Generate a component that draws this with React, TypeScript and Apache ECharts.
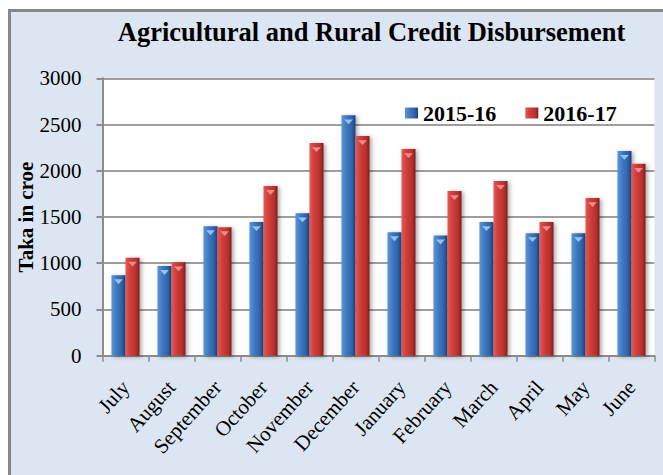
import React, { useEffect, useRef } from "react";
import * as echarts from "echarts";

const categories = ["July", "August", "September", "October", "November", "December", "January", "February", "March", "April", "May", "June"];
const series2015 = [870, 970, 1400, 1445, 1540, 2600, 1335, 1300, 1445, 1325, 1325, 2215];
const series2016 = [1060, 1010, 1390, 1835, 2300, 2375, 2235, 1780, 1890, 1445, 1705, 2075];
const seriesNames = ["2015-16", "2016-17"];
const chartTitle = "Agricultural and Rural Credit Disbursement";
const yAxisName = "Taka in croe";

const FONT = "'Liberation Serif', 'Times New Roman', serif";

const blueGrad = new echarts.graphic.LinearGradient(0, 0, 1, 0, [
  { offset: 0, color: "#5d94d6" },
  { offset: 0.35, color: "#3f79c2" },
  { offset: 0.75, color: "#2f62a8" },
  { offset: 1, color: "#1d3f72" },
]);
const redGrad = new echarts.graphic.LinearGradient(0, 0, 1, 0, [
  { offset: 0, color: "#e15a57" },
  { offset: 0.35, color: "#d03d3a" },
  { offset: 0.75, color: "#b8312e" },
  { offset: 1, color: "#7c1e1c" },
]);

export default function App() {
  const ref = useRef<HTMLDivElement>(null);
  useEffect(() => {
    if (!ref.current) return;
    const chart = echarts.init(ref.current, null, { renderer: "svg" });
    const barCommon = {
      type: "bar" as const,
      barGap: "0%",
      barCategoryGap: "39%",
    };
    const tipCommon = {
      type: "pictorialBar" as const,
      symbol: "triangle",
      symbolRotate: 180,
      symbolSize: [9, 5],
      symbolPosition: "end",
      symbolOffset: [0, 4],
      barGap: "0%",
      barCategoryGap: "39%",
      silent: true,
      z: 5,
    };
    chart.setOption({
      animation: false,
      backgroundColor: "#ffffff",
      graphic: [
        {
          type: "rect",
          z: -100,
          shape: { x: 9.5, y: 10.5, width: 700, height: 500 },
          style: { fill: "#dce6f2", stroke: "#878787", lineWidth: 3 },
        },
        {
          type: "text",
          x: 371.5,
          y: 32,
          style: {
            text: chartTitle,
            font: `bold 26.5px ${FONT}`,
            fill: "#000",
            textAlign: "center",
            textVerticalAlign: "middle",
          },
        },
      ],
      legend: {
        data: seriesNames,
        left: 400,
        top: 97,
        icon: "rect",
        itemWidth: 13,
        itemHeight: 11,
        itemGap: 29,
        textStyle: { fontFamily: FONT, fontWeight: "bold", fontSize: 22, color: "#000" },
      },
      grid: {
        left: 102.5,
        right: 8.5,
        top: 78.3,
        bottom: 119.3,
        show: true,
        backgroundColor: "#ffffff",
        borderWidth: 0,
      },
      xAxis: {
        type: "category",
        data: categories,
        axisLine: { lineStyle: { color: "#8c8c8c", width: 2 } },
        axisTick: { show: true, length: 6, lineStyle: { color: "#8c8c8c", width: 1.5 } },
        axisLabel: {
          interval: 0,
          rotate: 48,
          margin: 28,
          fontFamily: FONT,
          fontSize: 21,
          color: "#000",
        },
      },
      yAxis: {
        type: "value",
        min: 0,
        max: 3000,
        interval: 500,
        name: yAxisName,
        nameLocation: "middle",
        nameGap: 66,
        nameMoveOverlap: false,
        nameTextStyle: { fontFamily: FONT, fontWeight: "bold", fontSize: 21, color: "#000" },
        axisLine: { show: true, lineStyle: { color: "#8c8c8c", width: 2 } },
        axisTick: { show: true, length: 6, lineStyle: { color: "#8c8c8c", width: 2 } },
        splitLine: { lineStyle: { color: "#9e9e9e", width: 2 } },
        axisLabel: {
          margin: 21,
          fontFamily: FONT,
          fontSize: 21,
          color: "#000",
          formatter: (v: number) => String(v),
        },
      },
      series: [
        {
          ...barCommon,
          name: seriesNames[0],
          data: series2015,
          itemStyle: {
            color: blueGrad,
            shadowBlur: 4,
            shadowColor: "rgba(0,0,0,0.35)",
            shadowOffsetX: 2,
            shadowOffsetY: 1,
          },
        },
        {
          ...barCommon,
          name: seriesNames[1],
          data: series2016,
          itemStyle: {
            color: redGrad,
            shadowBlur: 4,
            shadowColor: "rgba(0,0,0,0.35)",
            shadowOffsetX: 2,
            shadowOffsetY: 1,
          },
        },
        {
          ...tipCommon,
          name: "tip1",
          data: series2015,
          itemStyle: { color: "#8fc3f5" },
        },
        {
          ...tipCommon,
          name: "tip2",
          data: series2016,
          itemStyle: { color: "#f08a88" },
        },
      ],
    });
    return () => chart.dispose();
  }, []);
  return (
    <div
      ref={ref}
      style={{ position: "absolute", left: 0, top: 0, width: 663, height: 475 }}
    />
  );
}
